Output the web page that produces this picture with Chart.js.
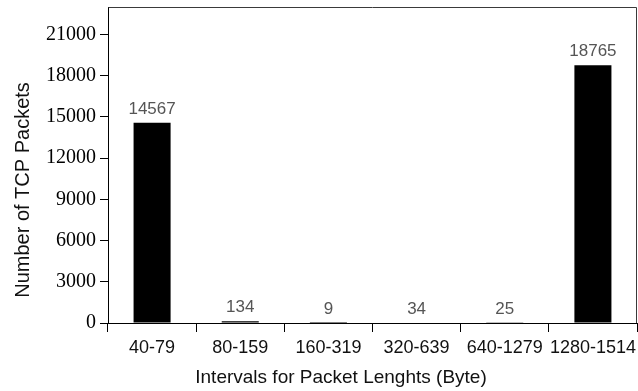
<!DOCTYPE html>
<html>
<head>
<meta charset="utf-8">
<script src="https://cdn.jsdelivr.net/npm/chart.js@4.4.0/dist/chart.umd.min.js"></script>
<style>
  html, body { margin: 0; padding: 0; background: #fff; }
  #wrap { width: 638px; height: 391px; }
</style>
</head>
<body>
<div id="wrap"><canvas id="myChart"></canvas></div>
<script>
const categories = ['40-79', '80-159', '160-319', '320-639', '640-1279', '1280-1514'];
const packets = [14567, 134, 9, 34, 25, 18765];
const yTicks = [0, 3000, 6000, 9000, 12000, 15000, 18000, 21000];

const xTitle = 'Intervals for Packet Lenghts (Byte)';
const yTitle = 'Number of TCP Packets';

// frame round the plot + value labels + axis titles
const extras = {
    id: 'extras',
    afterDatasetsDraw(chart) {
        const ctx = chart.ctx;
        const a = chart.chartArea;
        ctx.save();
        ctx.strokeStyle = '#3a3a3a';
        ctx.lineWidth = 1;
        ctx.beginPath();
        ctx.moveTo(a.left + 0.5, a.top + 0.5);
        ctx.lineTo(a.right - 0.5, a.top + 0.5);
        ctx.lineTo(a.right - 0.5, a.bottom);
        ctx.stroke();

        // numbers above bars
        ctx.fillStyle = '#555';
        ctx.font = '17px "Liberation Sans", Arial, sans-serif';
        ctx.textAlign = 'center';
        ctx.textBaseline = 'alphabetic';
        chart.getDatasetMeta(0).data.forEach((bar, i) => {
            ctx.fillText(String(packets[i]), bar.x, bar.y - 9);
        });

        // axis titles
        ctx.fillStyle = '#111';
        ctx.font = '19px "Liberation Sans", Arial, sans-serif';
        ctx.fillText(xTitle, 341, 383);
        ctx.translate(29, 190);
        ctx.rotate(-Math.PI / 2);
        ctx.font = '20px "Liberation Sans", Arial, sans-serif';
        ctx.fillText(yTitle, 0, 0);
        ctx.restore();
    }
};

const ctx1 = document.getElementById('myChart').getContext('2d');
const myChart = new Chart(ctx1, {
    type: 'bar',
    data: {
        labels: categories,
        datasets: [{
            data: packets,
            backgroundColor: '#000',
            borderWidth: 0,
            barPercentage: 0.42,
            categoryPercentage: 1.0
        }]
    },
    options: {
        responsive: true,
        maintainAspectRatio: false,
        animation: false,
        layout: { padding: { left: 0, right: 1, top: 7, bottom: 0 } },
        plugins: {
            legend: { display: false },
            tooltip: { enabled: false }
        },
        scales: {
            x: {
                grid: {
                    offset: true,
                    drawOnChartArea: false,
                    tickLength: 9,
                    color: '#000',
                    tickColor: '#000'
                },
                border: { color: '#000', width: 1 },
                ticks: {
                    color: '#111',
                    padding: 5,
                    maxRotation: 0,
                    autoSkip: false,
                    font: { family: '"Liberation Sans", Arial, sans-serif', size: 18 }
                },
                afterFit: function (scale) {
                    scale.height = 68;
                    scale.paddingLeft = 0;
                    scale.paddingRight = 0;
                }
            },
            y: {
                min: 0,
                max: 23000,
                grid: {
                    drawOnChartArea: false,
                    tickLength: 8,
                    color: '#000',
                    tickColor: '#000'
                },
                border: { color: '#000', width: 1 },
                ticks: {
                    stepSize: 3000,
                    color: '#000',
                    padding: 4,
                    callback: v => String(v),
                    font: { family: '"Liberation Serif", "Times New Roman", serif', size: 20 }
                },
                afterBuildTicks: function (scale) {
                    scale.ticks = yTicks.map(v => ({ value: v }));
                },
                afterFit: function (scale) {
                    scale.width = 108;
                    scale.paddingTop = 0;
                    scale.paddingBottom = 0;
                }
            }
        }
    },
    plugins: [extras]
});
</script>
</body>
</html>
